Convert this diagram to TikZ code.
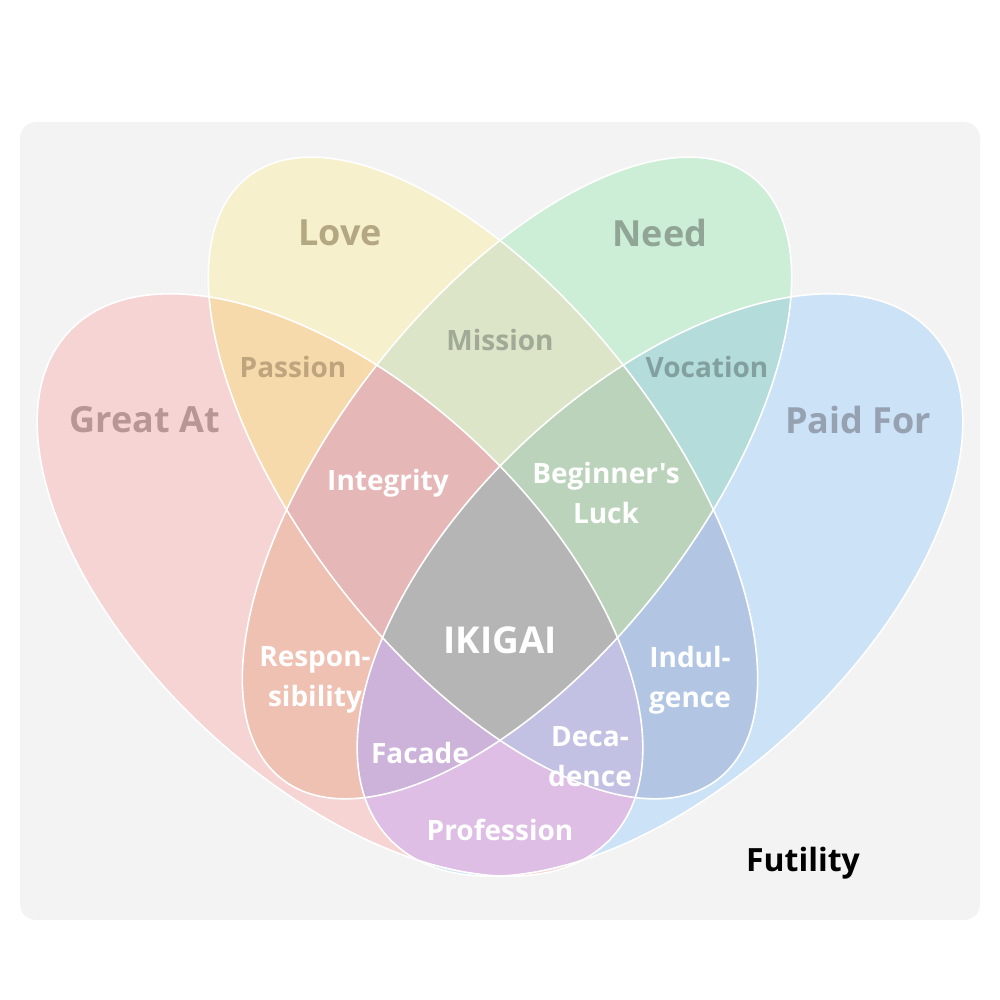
\documentclass[tikz,border=0pt]{standalone}
\usepackage{fontspec}
\setmainfont{Open Sans}[Ligatures=TeXOff]
\begin{document}
\begin{tikzpicture}[x=1pt,y=1pt,
  big/.style={font=\fontsize{36}{40}\selectfont\bfseries, align=center},
  mid/.style={font=\fontsize{28}{40}\selectfont\bfseries, align=center},
  wt/.style={mid, text=white}]
\definecolor{bgc}{RGB}{243,243,243}
\definecolor{cR}{RGB}{246,212,212}
\definecolor{cY}{RGB}{247,240,204}
\definecolor{cG}{RGB}{204,238,214}
\definecolor{cB}{RGB}{204,226,246}
\definecolor{cRY}{RGB}{247,218,172}
\definecolor{cYG}{RGB}{220,229,200}
\definecolor{cGB}{RGB}{180,220,218}
\definecolor{cRG}{RGB}{239,193,178}
\definecolor{cYB}{RGB}{178,198,228}
\definecolor{cRB}{RGB}{222,190,228}
\definecolor{cRYG}{RGB}{229,183,183}
\definecolor{cYGB}{RGB}{187,211,187}
\definecolor{cRGB}{RGB}{205,178,218}
\definecolor{cRYB}{RGB}{195,193,227}
\definecolor{cAll}{RGB}{181,181,181}
\def\eR{(340,415) ellipse [x radius=371pt, y radius=197pt, rotate=-43]}
\def\eB{(660,415) ellipse [x radius=371pt, y radius=197pt, rotate=43]}
\def\eY{(483,522) ellipse [x radius=382pt, y radius=180pt, rotate=-52]}
\def\eG{(517,522) ellipse [x radius=382pt, y radius=180pt, rotate=52]}
\useasboundingbox (0,0) rectangle (1000,1000);
\fill[bgc, rounded corners=16pt] (20,80) rectangle (980,878);
\fill[cR] \eR; \fill[cB] \eB; \fill[cY] \eY; \fill[cG] \eG;
\begin{scope}\clip \eR; \fill[cRY] \eY; \end{scope}
\begin{scope}\clip \eY; \fill[cYG] \eG; \end{scope}
\begin{scope}\clip \eG; \fill[cGB] \eB; \end{scope}
\begin{scope}\clip \eR; \fill[cRG] \eG; \end{scope}
\begin{scope}\clip \eY; \fill[cYB] \eB; \end{scope}
\begin{scope}\clip \eR; \fill[cRB] \eB; \end{scope}
\begin{scope}\clip \eR; \clip \eY; \fill[cRYG] \eG; \end{scope}
\begin{scope}\clip \eY; \clip \eG; \fill[cYGB] \eB; \end{scope}
\begin{scope}\clip \eR; \clip \eG; \fill[cRGB] \eB; \end{scope}
\begin{scope}\clip \eR; \clip \eY; \fill[cRYB] \eB; \end{scope}
\begin{scope}\clip \eR; \clip \eY; \clip \eG; \fill[cAll] \eB; \end{scope}
\draw[white, line width=1.6pt] \eR;
\draw[white, line width=1.6pt] \eB;
\draw[white, line width=1.6pt] \eY;
\draw[white, line width=1.6pt] \eG;
\node[big, text={rgb,255:red,185;green,150;blue,150}] (ga) at (145,580) {Great At};
\node[big, text={rgb,255:red,180;green,168;blue,130}] (lo) at (340,767) {Love};
\node[big, text={rgb,255:red,145;green,165;blue,150}] (ne) at (660,767) {Need};
\node[big, text={rgb,255:red,150;green,162;blue,178}] (pf) at (858,580) {Paid For};
\node[mid, text={rgb,255:red,190;green,165;blue,125}] (pa) at (293,633) {Passion};
\node[mid, text={rgb,255:red,160;green,170;blue,150}] (mi) at (500,660) {Mission};
\node[mid, text={rgb,255:red,130;green,160;blue,160}] (vo) at (707,633) {Vocation};
\node[wt] (in) at (388,517) {Integrity};
\node[wt] (bl) at (606,507) {Beginner's\\Luck};
\node[font=\fontsize{37}{40}\selectfont\bfseries, text=white] (ik) at (500,360) {IKIGAI};
\node[wt] (re) at (315,320) {Respon-\\sibility};
\node[wt] (ind) at (690,320) {Indul-\\gence};
\node[wt] (fa) at (420,247) {Facade};
\node[wt] (de) at (590,243) {Deca-\\dence};
\node[wt] (pr) at (500,170) {Profession};
\node[font=\fontsize{32}{36}\selectfont\bfseries, text=black] (fu) at (803,137) {Futility};
\end{tikzpicture}
\end{document}
